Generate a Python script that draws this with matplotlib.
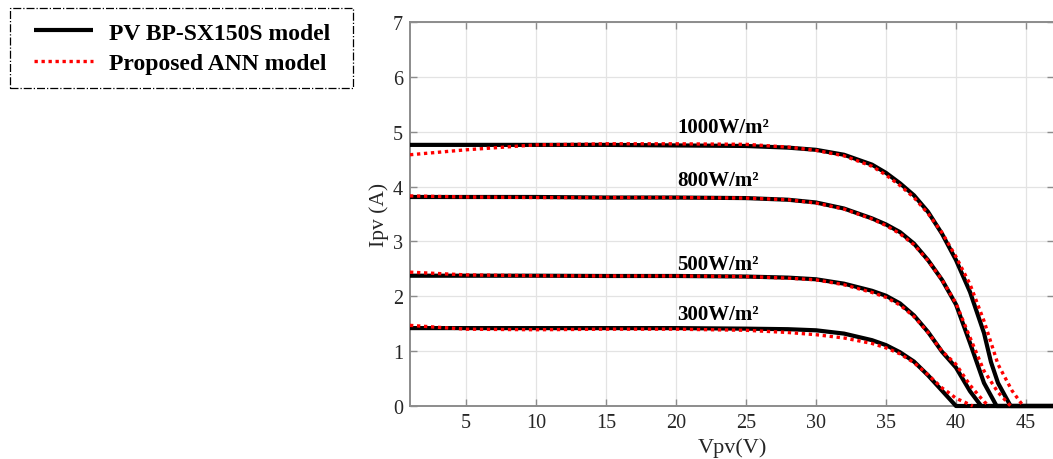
import matplotlib
matplotlib.use("Agg")
import matplotlib.pyplot as plt
from matplotlib.legend_handler import HandlerLine2D
from matplotlib.patches import Rectangle

plt.rcParams["font.family"] = ["Liberation Serif", "DejaVu Serif"]

irradiance_labels = ["1000W/m²", "800W/m²", "500W/m²", "300W/m²"]

# PV BP-SX150S model (simulated I-V curves)
pv_v_1000 = [0, 5, 10, 15, 20, 25, 28, 30, 32, 34, 35, 36, 37, 38, 39, 40, 41, 42, 42.5, 43, 43.9, 47]
pv_i_1000 = [4.76, 4.76, 4.76, 4.76, 4.75, 4.74, 4.71, 4.67, 4.58, 4.40, 4.25, 4.06, 3.84, 3.54, 3.14, 2.66,
             2.08, 1.33, 0.80, 0.42, 0, 0]
pv_v_800 = [0, 5, 10, 15, 20, 25, 28, 30, 32, 34, 35, 36, 37, 38, 39, 40, 41, 42, 42.9, 47]
pv_i_800 = [3.81, 3.81, 3.81, 3.80, 3.80, 3.79, 3.76, 3.71, 3.60, 3.42, 3.31, 3.17, 2.96, 2.66, 2.30, 1.85,
            1.15, 0.42, 0, 0]
pv_v_500 = [0, 5, 10, 15, 20, 25, 28, 30, 32, 34, 35, 36, 37, 38, 39, 40, 41, 41.8, 47]
pv_i_500 = [2.375, 2.375, 2.375, 2.37, 2.37, 2.36, 2.34, 2.31, 2.23, 2.10, 2.01, 1.87, 1.65, 1.35, 0.99,
            0.70, 0.27, 0, 0]
pv_v_300 = [0, 5, 10, 15, 20, 25, 28, 30, 32, 34, 35, 36, 37, 38, 39, 40, 47]
pv_i_300 = [1.42, 1.42, 1.42, 1.42, 1.42, 1.41, 1.40, 1.38, 1.32, 1.20, 1.11, 0.98, 0.81, 0.56, 0.28, 0, 0]

# proposed ANN model predictions
ann_v_1000 = [1, 5, 10, 15, 20, 25, 28, 30, 32, 34, 35, 36, 37, 38, 39, 40, 41, 42, 43, 44, 44.8]
ann_i_1000 = [4.58, 4.67, 4.76, 4.78, 4.78, 4.77, 4.72, 4.66, 4.56, 4.37, 4.21, 4.02, 3.80, 3.51, 3.16, 2.72,
              2.22, 1.55, 0.76, 0.28, 0]
ann_v_800 = [1, 5, 10, 15, 20, 25, 28, 30, 32, 34, 35, 36, 37, 38, 39, 40, 41, 42, 43, 43.9]
ann_i_800 = [3.83, 3.81, 3.80, 3.80, 3.80, 3.79, 3.76, 3.70, 3.59, 3.41, 3.29, 3.14, 2.94, 2.65, 2.30, 1.87,
             1.25, 0.64, 0.25, 0]
ann_v_500 = [1, 5, 10, 15, 20, 25, 28, 30, 32, 34, 35, 36, 37, 38, 39, 40, 41, 42, 42.4]
ann_i_500 = [2.44, 2.39, 2.375, 2.37, 2.37, 2.36, 2.33, 2.30, 2.21, 2.07, 1.98, 1.84, 1.63, 1.34, 1.00, 0.76,
             0.38, 0.08, 0]
ann_v_300 = [1, 5, 10, 15, 20, 25, 28, 30, 32, 34, 35, 36, 37, 38, 39, 39.5, 40, 40.7, 41.2]
ann_i_300 = [1.47, 1.40, 1.39, 1.40, 1.40, 1.38, 1.34, 1.30, 1.24, 1.14, 1.06, 0.95, 0.79, 0.57, 0.33, 0.24,
             0.14, 0.06, 0]

label_v = [23.4, 23.0, 23.0, 23.0]
label_i = [4.99, 4.03, 2.50, 1.585]

pv_curves = [(pv_v_1000, pv_i_1000), (pv_v_800, pv_i_800), (pv_v_500, pv_i_500), (pv_v_300, pv_i_300)]
ann_curves = [(ann_v_1000, ann_i_1000), (ann_v_800, ann_i_800), (ann_v_500, ann_i_500), (ann_v_300, ann_i_300)]

fig = plt.figure(figsize=(10.53, 4.60), dpi=100)
ax = fig.add_axes([410 / 1053, 53 / 460, 644 / 1053, 384 / 460])

axis_gray = "#8c8c8c"
text_gray = "#262626"

# clip to the axes horizontally but let the I=0 segments sit on top of the bottom spine
clip_rect = Rectangle((0, -0.03), 1, 1.06, transform=ax.transAxes, visible=False)
ax.add_patch(clip_rect)

for i, (v, cur) in enumerate(pv_curves):
    ln, = ax.plot(v, cur, color="black", lw=3.0, solid_capstyle="butt", zorder=3,
                  label="PV BP-SX150S model" if i == 0 else None)
    ln.set_clip_path(clip_rect)
for i, (v, cur) in enumerate(ann_curves):
    ln, = ax.plot(v, cur, color="red", lw=2.4, linestyle=(0, (1, 1.1)), zorder=4,
                  label="Proposed ANN model" if i == 0 else None)
    ln.set_clip_path(clip_rect)

for txt, x, y in zip(irradiance_labels, label_v, label_i):
    ax.text(x, y, txt, ha="center", va="baseline", fontsize=15, fontweight="bold", color="black", zorder=5)

ax.set_xlim(1, 47)
ax.set_ylim(0, 7)
ax.set_xticks(range(5, 46, 5))
ax.set_yticks(range(0, 8))
ax.grid(True, color="#e3e3e3", lw=0.9)
ax.set_axisbelow(True)
ax.tick_params(direction="in", length=5, width=1, colors=axis_gray, labelcolor=text_gray,
               labelsize=14.5, top=True, right=True, pad=5)
for spine in ax.spines.values():
    spine.set_color(axis_gray)
    spine.set_linewidth(1.4)

ax.set_xlabel("Vpv(V)", fontsize=16, color=text_gray, labelpad=4)
ax.set_ylabel("Ipv (A)", fontsize=15.5, color=text_gray, labelpad=3)

# legend box sits in the empty space left of the axes; xpad pushes the line samples inward
leg = fig.legend(loc="upper left", mode="expand",
                 bbox_to_anchor=(10 / 1053, 1 - 85 / 460, 343 / 1053, 76 / 460), bbox_transform=fig.transFigure,
                 prop={"size": 17, "weight": "bold"}, fancybox=False, framealpha=1, edgecolor="black",
                 handlelength=2.92, handletextpad=0.68, borderpad=0.6, labelspacing=0.37, borderaxespad=0,
                 handler_map={plt.Line2D: HandlerLine2D(xpad=0.42)})
leg.get_frame().set_linestyle("-.")
leg.get_frame().set_linewidth(0.9)

fig.savefig("out.png", dpi=100)
